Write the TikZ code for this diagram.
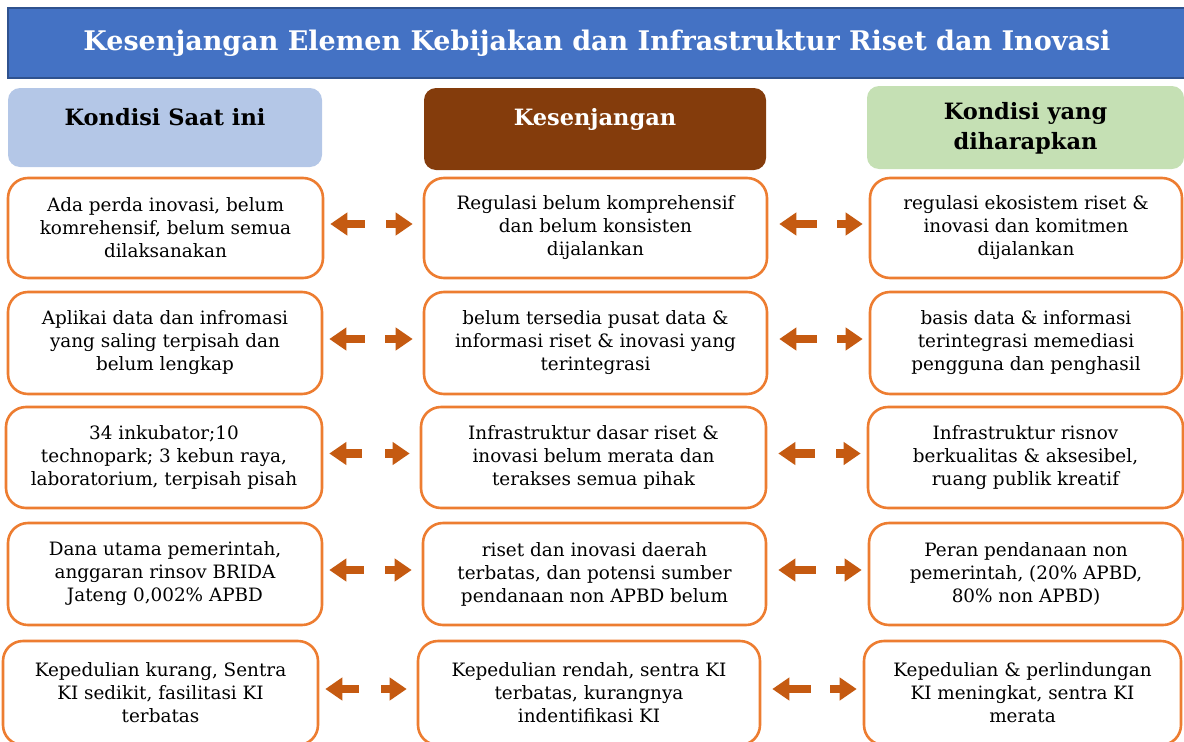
\documentclass[tikz,border=0pt]{standalone}
\usepackage{fontspec}
\setmainfont{DejaVu Serif}
\usetikzlibrary{arrows.meta}
\definecolor{titleblue}{HTML}{4472C4}
\definecolor{titleedge}{HTML}{2F528F}
\definecolor{nowblue}{HTML}{B4C7E7}
\definecolor{gapbrown}{HTML}{843C0C}
\definecolor{hopegreen}{HTML}{C5E0B4}
\definecolor{boxorange}{HTML}{ED7D31}
\definecolor{arrorange}{HTML}{C55A11}

\begin{document}
\begin{tikzpicture}[x=1pt,y=-1pt,
  head/.style={rounded corners=12pt, inner sep=0pt},
  headtxt/.style={font=\fontsize{22.5}{30}\selectfont\bfseries, align=center},
  cbox/.style={draw=boxorange, line width=2.6pt, rounded corners=20pt, fill=white, align=center, inner sep=0pt, font=\fontsize{18.4}{23}\selectfont},
  larr/.style={{Triangle[length=17pt,width=22pt]}-, arrorange, line width=8.5pt},
  rarr/.style={-{Triangle[length=17pt,width=22pt]}, arrorange, line width=8.5pt}]

\useasboundingbox (0,0) rectangle (1184,742);

% title bar
\node[fill=titleblue, draw=titleedge, line width=2pt, minimum width=1178, minimum height=70, inner sep=0pt,
  text=white, font=\fontsize{27}{32}\selectfont\bfseries] (title) at (597,43) {Kesenjangan Elemen Kebijakan dan Infrastruktur Riset dan Inovasi};

% column heads
\node[head, fill=nowblue, minimum width=314, minimum height=79] (hl) at (165,127.5) {};
\node[headtxt] (hlt) at (165,117) {Kondisi Saat ini};
\node[head, fill=gapbrown, minimum width=342, minimum height=82] (hm) at (595,129) {};
\node[headtxt, text=white] (hmt) at (595,119) {Kesenjangan};
\node[head, fill=hopegreen, minimum width=317, minimum height=83] (hr) at (1025.5,127.5) {};
\node[headtxt] (hrt) at (1025.5,128) {Kondisi yang\\diharapkan};

% row 1
\node[cbox, minimum width=315, minimum height=100] (l1) at (165.5,228) {Ada perda inovasi, belum\\komrehensif, belum semua\\dilaksanakan};
\node[cbox, minimum width=343, minimum height=100] (m1) at (595.5,228) {Regulasi belum komprehensif\\dan belum konsisten\\dijalankan};
\node[cbox, minimum width=312, minimum height=100] (r1) at (1026,228) {regulasi ekosistem riset \&\\inovasi dan komitmen\\dijalankan};

% row 2
\node[cbox, minimum width=314, minimum height=102] (l2) at (165,343) {Aplikai data dan infromasi\\yang saling terpisah dan\\belum lengkap};
\node[cbox, minimum width=343, minimum height=102] (m2) at (595.5,343) {belum tersedia pusat data \&\\informasi riset \& inovasi yang\\terintegrasi};
\node[cbox, minimum width=312, minimum height=102] (r2) at (1026,343) {basis data \& informasi\\terintegrasi memediasi\\pengguna dan penghasil};

% row 3
\node[cbox, minimum width=316, minimum height=101] (l3) at (164,457.5) {34 inkubator;10\\technopark; 3 kebun raya,\\laboratorium, terpisah pisah};
\node[cbox, minimum width=345, minimum height=101] (m3) at (593.5,457.5) {Infrastruktur dasar riset \&\\inovasi belum merata dan\\terakses semua pihak};
\node[cbox, minimum width=315, minimum height=101] (r3) at (1025.5,457.5) {Infrastruktur risnov\\berkualitas \& aksesibel,\\ruang publik kreatif};

% row 4
\node[cbox, minimum width=314, minimum height=102] (l4) at (165,574) {Dana utama pemerintah,\\anggaran rinsov BRIDA\\Jateng 0,002\% APBD};
\node[cbox, minimum width=343, minimum height=102] (m4) at (594.5,574) {riset dan inovasi daerah\\terbatas, dan potensi sumber\\pendanaan non APBD belum};
\node[cbox, minimum width=314, minimum height=102] (r4) at (1026,574) {Peran pendanaan non\\pemerintah, (20\% APBD,\\80\% non APBD)};

% row 5
\node[cbox, minimum width=315, minimum height=104] (l5) at (160.5,693) {Kepedulian kurang, Sentra\\KI sedikit, fasilitasi KI\\terbatas};
\node[cbox, minimum width=342, minimum height=104] (m5) at (589,693) {Kepedulian rendah, sentra KI\\terbatas, kurangnya\\indentifikasi KI};
\node[cbox, minimum width=317, minimum height=104] (r5) at (1022.5,693) {Kepedulian \& perlindungan\\KI meningkat, sentra KI\\merata};

% arrows between the columns
\foreach \i in {1,...,5}{
\draw[larr, shorten <=6pt, shorten >=58pt] ([yshift=4pt]l\i.east) -- ([yshift=4pt]m\i.west);
\draw[rarr, shorten <=62pt, shorten >=10pt] ([yshift=4pt]l\i.east) -- ([yshift=4pt]m\i.west);
\draw[larr, shorten <=11pt, shorten >=52pt] ([yshift=4pt]m\i.east) -- ([yshift=4pt]r\i.west);
\draw[rarr, shorten <=69pt, shorten >=6pt] ([yshift=4pt]m\i.east) -- ([yshift=4pt]r\i.west);
}

\end{tikzpicture}
\end{document}
